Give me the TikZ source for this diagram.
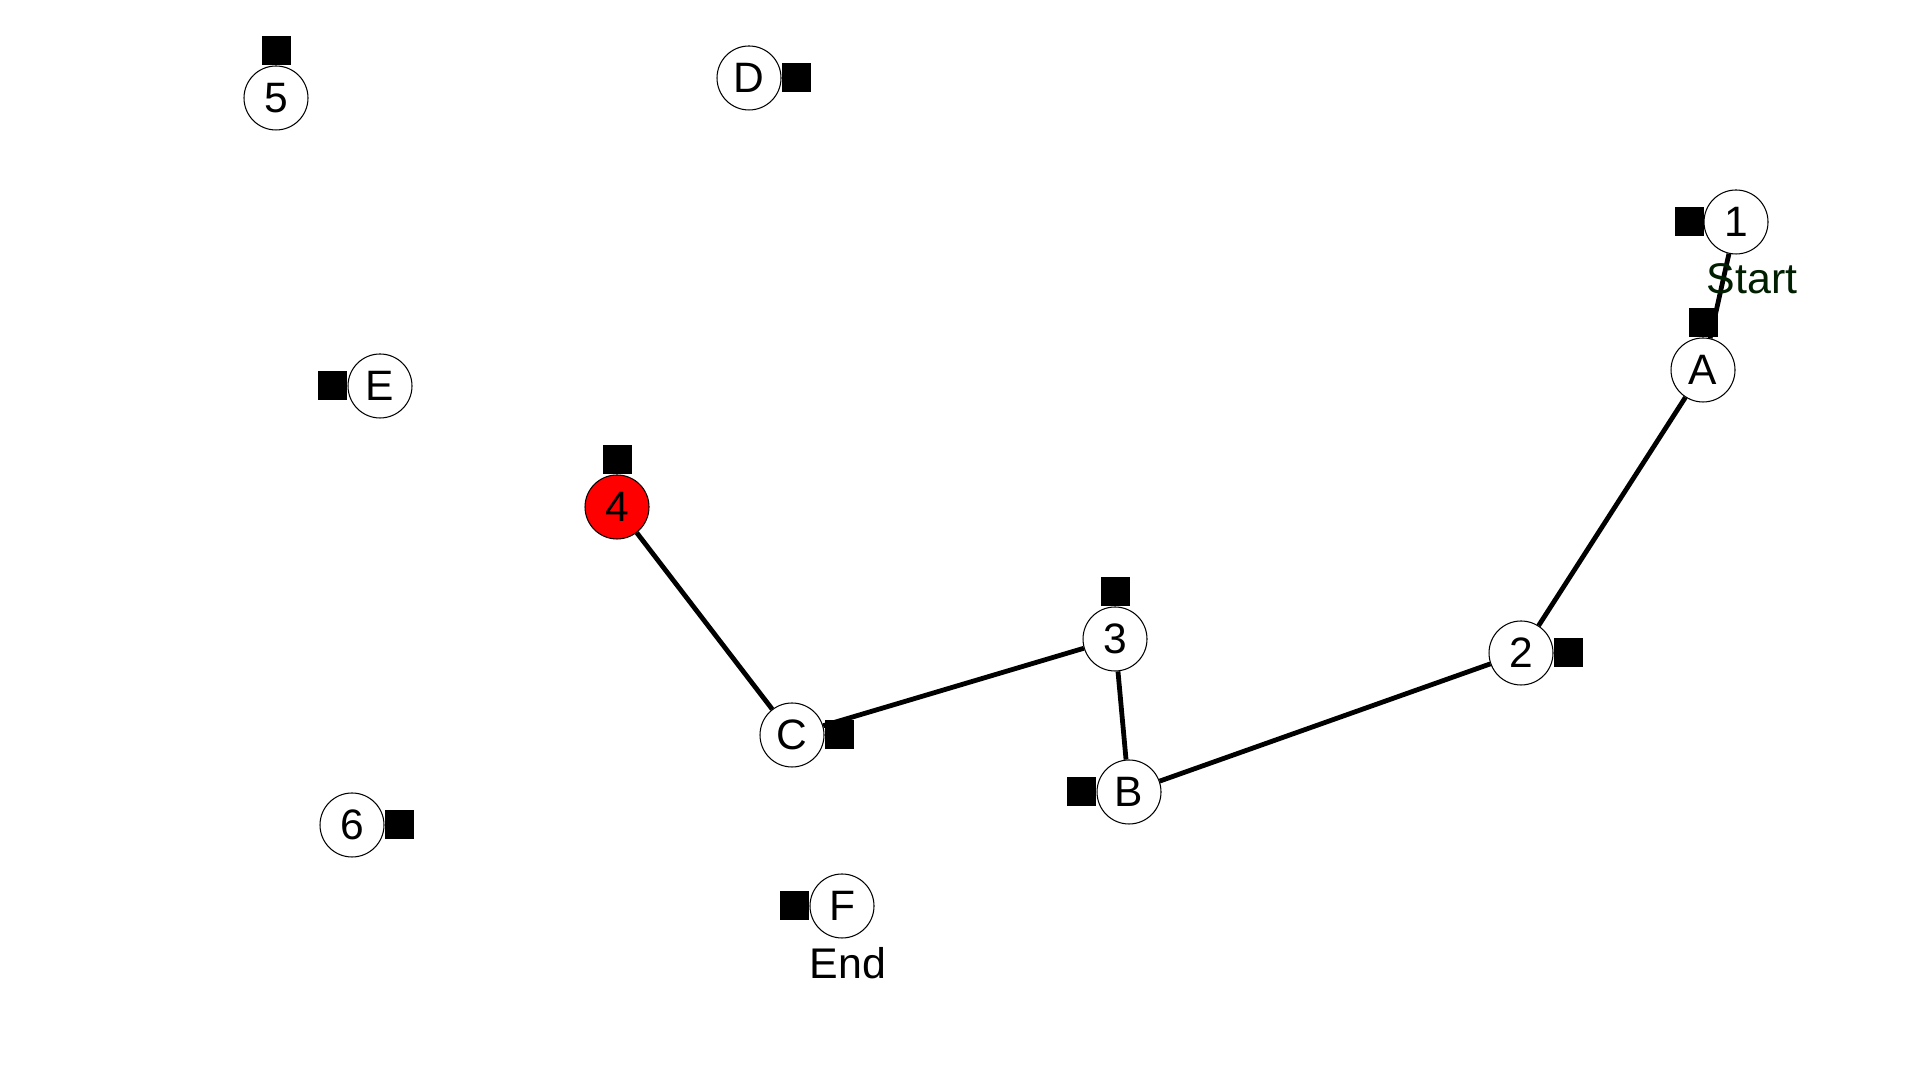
\documentclass[tikz,border=0pt]{standalone}
\usepackage{fontspec}
\setmainfont{Liberation Sans}
\definecolor{startgreen}{RGB}{0,30,0}
\definecolor{nodered}{RGB}{255,0,0}
\tikzset{
  vtx/.style={circle, draw=black, line width=0.3pt, fill=white, minimum size=0.64cm, inner sep=0pt, font=\fontsize{12.1pt}{14pt}\selectfont},
  redvtx/.style={vtx, fill=nodered},
  sq/.style={rectangle, fill=black, minimum size=0.29cm, inner sep=0pt, outer sep=0pt},
  lbl/.style={inner sep=0pt, font=\fontsize{12.2pt}{14pt}\selectfont},
  link/.style={line width=0.048cm, black}
}
\begin{document}
\begin{tikzpicture}
\useasboundingbox (0,0) rectangle (19.2,10.8);
\fill[white] (0,0) rectangle (19.2,10.8);
% nodes
\node[vtx] (n5) at (2.76,9.82) {5};
\node[vtx] (nD) at (7.49,10.02) {D};
\node[vtx] (n1) at (17.36,8.58) {1};
\node[vtx] (nA) at (17.03,7.10) {A};
\node[vtx] (nE) at (3.80,6.94) {E};
\node[redvtx] (n4) at (6.17,5.73) {4};
\node[vtx] (n3) at (11.15,4.41) {3};
\node[vtx] (n2) at (15.21,4.27) {2};
\node[vtx] (nC) at (7.92,3.45) {C};
\node[vtx] (nB) at (11.29,2.88) {B};
\node[vtx] (n6) at (3.52,2.55) {6};
\node[vtx] (nF) at (8.42,1.74) {F};
% edges
\draw[link] (n1) -- (nA);
\draw[link] (nA) -- (n2);
\draw[link] (n2) -- (nB);
\draw[link] (nB) -- (n3);
\draw[link] (n3) -- (nC);
\draw[link] (nC) -- (n4);
% squares
\node[sq, anchor=south] (s5) at (n5.north) {};
\node[sq, anchor=west] (sD) at (nD.east) {};
\node[sq, anchor=east] (s1) at (n1.west) {};
\node[sq, anchor=south] (sA) at (nA.north) {};
\node[sq, anchor=east] (sE) at (nE.west) {};
\node[sq, anchor=south] (s4) at (n4.north) {};
\node[sq, anchor=south] (s3) at (n3.north) {};
\node[sq, anchor=west] (s2) at (n2.east) {};
\node[sq, anchor=west] (sC) at (nC.east) {};
\node[sq, anchor=east] (sB) at (nB.west) {};
\node[sq, anchor=west] (s6) at (n6.east) {};
\node[sq, anchor=east] (sF) at (nF.west) {};
% labels
\node[lbl, text=startgreen] (tStart) at (17.52,8.01) {Start};
\node[lbl] (tEnd) at (8.48,1.17) {End};
\end{tikzpicture}
\end{document}
